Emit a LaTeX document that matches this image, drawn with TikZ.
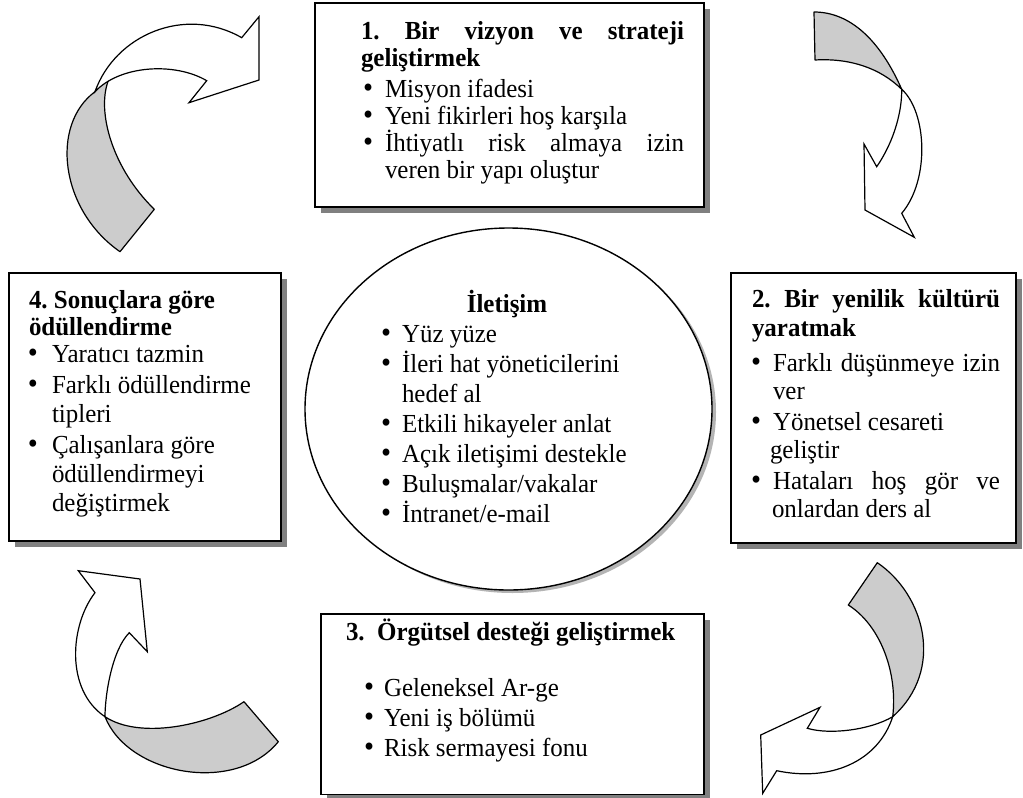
\documentclass[tikz,border=0pt]{standalone}
\usepackage{graphicx}
\usepackage{fontspec}
\setmainfont{Liberation Serif}[FakeStretch=0.96]
\usetikzlibrary{shapes.geometric,shadows}

\definecolor{bandgray}{HTML}{CCCCCC}
\definecolor{boxshadow}{HTML}{808080}
\definecolor{ovalshadow}{HTML}{B4B4B4}

% a slightly enlarged bullet
\newcommand\bigbul{\smash{\scalebox{1.15}{\textbullet}}}
% bullet line: #1 text indent, #2 bullet offset, #3 text
\newcommand\bitem[3]{\hbox{\makebox[#1][l]{\hspace*{#2}\bigbul}#3}}
% continuation line with indent #1
\newcommand\cont[2]{\hbox{\hspace*{#1}#2}}
% stack of lines, first baseline on the node's base
\newcommand\textstack[2]{\vtop{\baselineskip=#1\lineskiplimit=-100pt\lineskip=0pt\relax #2}}

\begin{document}
\begin{tikzpicture}[x=1pt,y=-1pt,
  every node/.style={inner sep=0pt,outer sep=0pt},
  panel/.style={rectangle,draw=black,line width=1.4pt,fill=white,
    drop shadow={shadow xshift=6pt,shadow yshift=-6pt,fill=boxshadow,opacity=1}},
  oval/.style={ellipse,draw=black,line width=1.4pt,fill=white,
    drop shadow={shadow xshift=4pt,shadow yshift=-3pt,fill=ovalshadow,opacity=1}},
  txt/.style={anchor=base west,font=\fontsize{26pt}{30pt}\selectfont},
  band/.style={draw=black,line width=1.2pt,fill=bandgray,line join=round},
  arrowbody/.style={draw=black,line width=1.2pt,fill=white,line join=miter}]

\useasboundingbox (0,0) rectangle (1023,798);
\fill[white] (0,0) rectangle (1023,798);

% ---- curved arrows ----
% top left
\draw[band] (120,251.7) .. controls (60,210) and (50,125) .. (95,91.7)
  -- (110,65) -- (108,81.5) .. controls (97,112) and (112,168) .. (154.3,209.3) -- cycle;
\draw[arrowbody] (95,91.7) .. controls (115,35) and (185,5) .. (241.7,37.7)
  -- (259,16.7) -- (259,80) -- (189,102.7) -- (206.7,80.7)
  .. controls (175,62) and (120,65) .. (95,91.7) -- cycle;
% top right
\draw[band] (814,12) .. controls (850,12) and (880,40) .. (901.7,89.3)
  .. controls (880,68) and (850,58) .. (815,60) -- cycle;
\draw[arrowbody] (901.7,89.3) .. controls (927,112) and (930,180) .. (901.7,213.3)
  -- (914.3,237.3) -- (865,210) -- (864,144) -- (876.7,166.7)
  .. controls (895,140) and (902,110) .. (901.7,89.3) -- cycle;
% bottom right
\draw[band] (877.3,562.7) .. controls (925,595) and (945,670) .. (892.7,716.7)
  .. controls (898,672) and (880,625) .. (848.3,605) -- cycle;
\draw[arrowbody] (892.7,716.7) .. controls (878,762) and (830,782) .. (776.7,770.7)
  -- (762.7,793.3) -- (760.7,735) -- (820,707.3) -- (807.3,728.3)
  .. controls (830,735) and (870,730) .. (892.7,716.7) -- cycle;
% bottom left
\draw[band] (244,701.7) .. controls (210,725) and (140,740) .. (105,716.7)
  .. controls (128,775) and (235,795) .. (278.3,741.7) -- cycle;
\draw[arrowbody] (105,716.7) .. controls (65,690) and (70,625) .. (95,592.7)
  -- (78.3,570.7) -- (140,579) -- (147.3,651.7) -- (129.3,632.7)
  .. controls (112,650) and (105,695) .. (105,716.7) -- cycle;

% ---- frames ----
\node[panel,minimum width=389pt,minimum height=204pt] (b1) at (509.5,105) {};
\node[panel,minimum width=285pt,minimum height=270pt] (b2) at (873.5,408) {};
\node[panel,minimum width=383pt,minimum height=180.5pt] (b3) at (512.5,704.25) {};
\node[panel,minimum width=272pt,minimum height=268pt] (b4) at (145,407) {};
\node[oval,minimum width=407pt,minimum height=362pt] (core) at (508.5,409) {};

% ---- texts ----
\node[txt] (t1) at (361,39.3) {\textstack{27pt}{%
  \hbox{\makebox[323pt][s]{\bfseries 1.\ Bir vizyon ve strateji}}
  \hbox{\bfseries geliştirmek}
  \vskip4.3pt
  \bitem{24pt}{2pt}{Misyon ifadesi}
  \bitem{24pt}{2pt}{Yeni fikirleri hoş karşıla}
  \bitem{24pt}{2pt}{\makebox[299pt][s]{İhtiyatlı risk almaya izin}}
  \cont{24pt}{veren bir yapı oluştur}}};

\node[txt] (t2) at (752,307.7) {\textstack{28.5pt}{%
  \hbox{\makebox[248pt][s]{\bfseries 2.\ Bir yenilik kültürü}}
  \hbox{\bfseries yaratmak}
  \vskip6.5pt
  \bitem{21pt}{-1pt}{\makebox[227pt][s]{Farklı düşünmeye izin}}
  \cont{21pt}{ver}
  \vskip2pt
  \bitem{21pt}{-1pt}{Yönetsel cesareti}
  \cont{18pt}{geliştir}
  \vskip2pt
  \bitem{21pt}{-1pt}{\makebox[227pt][s]{Hataları hoş gör ve}}
  \cont{20pt}{onlardan ders al}}};

\node[txt] (t3) at (346,640.7) {\textstack{30pt}{%
  \hbox{\bfseries 3.\ \ Örgütsel desteği geliştirmek}
  \vskip26pt
  \bitem{38pt}{18pt}{Geleneksel Ar-ge}
  \bitem{38pt}{18pt}{Yeni iş bölümü}
  \bitem{38pt}{18pt}{Risk sermayesi fonu}}};

\node[txt] (t4) at (29,308) {\textstack{29pt}{%
  \hbox{\bfseries 4.\ Sonuçlara göre}
  \vskip-2pt
  \hbox{\bfseries ödüllendirme}
  \vskip-2pt
  \bitem{23pt}{-1pt}{Yaratıcı tazmin}
  \vskip2pt
  \bitem{23pt}{-1pt}{Farklı ödüllendirme}
  \cont{23pt}{tipleri}
  \vskip2pt
  \bitem{23pt}{-1pt}{Çalışanlara göre}
  \cont{23pt}{ödüllendirmeyi}
  \cont{23pt}{değiştirmek}}};

\node[txt] (t0) at (381,312) {\textstack{30pt}{%
  \hbox to 252pt{\hfil\bfseries İletişim\hfil}
  \bitem{21pt}{0pt}{Yüz yüze}
  \bitem{21pt}{0pt}{İleri hat yöneticilerini}
  \cont{21pt}{hedef al}
  \bitem{21pt}{0pt}{Etkili hikayeler anlat}
  \bitem{21pt}{0pt}{Açık iletişimi destekle}
  \bitem{21pt}{0pt}{Buluşmalar/vakalar}
  \bitem{21pt}{0pt}{İntranet/e-mail}}};

\end{tikzpicture}
\end{document}
